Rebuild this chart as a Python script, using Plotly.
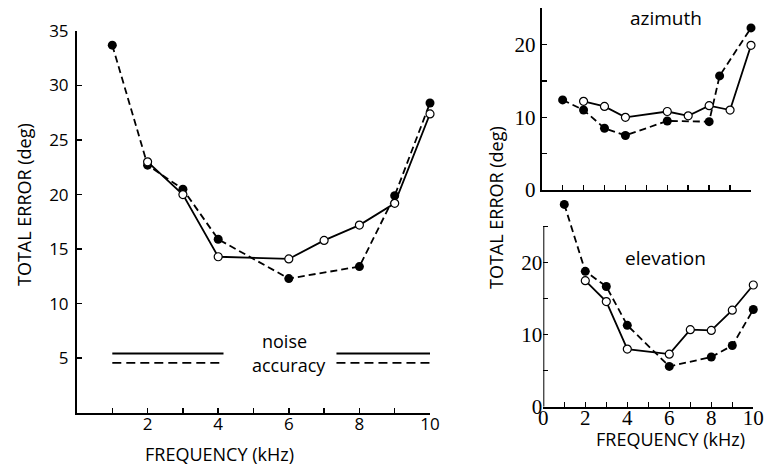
import plotly.graph_objects as go

W, H = 764, 467

# ---- Left panel (total error) ----
left_filled_x = [1, 2, 3, 4, 6, 8, 9, 10]
left_filled_y = [33.7, 22.7, 20.5, 15.9, 12.3, 13.4, 19.9, 28.4]
left_open_x = [2, 3, 4, 6, 7, 8, 9, 10]
left_open_y = [23.0, 20.0, 14.3, 14.1, 15.8, 17.2, 19.2, 27.4]
noise_x = [1, 4.15, None, 7.35, 10]
noise_solid_y = [5.43, 5.43, None, 5.43, 5.43]
noise_dash_y = [4.57, 4.57, None, 4.57, 4.57]

# ---- Top-right panel (azimuth) ----
az_filled_x = [1, 2, 3, 4, 6, 8, 8.5, 10]
az_filled_y = [12.4, 11.0, 8.5, 7.5, 9.5, 9.4, 15.7, 22.3]
az_open_x = [2, 3, 4, 6, 7, 8, 9, 10]
az_open_y = [12.2, 11.5, 10.0, 10.8, 10.2, 11.6, 11.0, 19.9]

# ---- Bottom-right panel (elevation) ----
el_filled_x = [1, 2, 3, 4, 6, 8, 9, 10]
el_filled_y = [28.1, 18.8, 16.7, 11.3, 5.6, 6.9, 8.5, 13.5]
el_open_x = [2, 3, 4, 6, 7, 8, 9, 10]
el_open_y = [17.5, 14.6, 8.0, 7.3, 10.7, 10.6, 13.4, 16.9]

left_yticks = [5, 10, 15, 20, 25, 30, 35]
left_xticks = list(range(1, 11))
left_xtext = ["" if v % 2 else str(v) for v in left_xticks]
right_yticks = [0, 5, 10, 15, 20, 25]
right_ytext = ["0", "", "10", "", "20", ""]
right_xticks = list(range(0, 11))
right_xtext = ["" if v % 2 else str(v) for v in right_xticks]

SANS = "Open Sans"
SERIF = "Liberation Serif"
DASH = "7px,4px"


def px(x):
    return x / W


def py(y):
    return 1 - y / H


fig = go.Figure()


def add_pair(fx, fy, ox, oy, xa, ya):
    fig.add_trace(go.Scatter(
        x=fx, y=fy, mode="lines+markers", xaxis=xa, yaxis=ya,
        line=dict(color="black", width=1.8, dash=DASH),
        marker=dict(color="black", size=9, symbol="circle"),
        cliponaxis=False, showlegend=False, hoverinfo="skip"))
    fig.add_trace(go.Scatter(
        x=ox, y=oy, mode="lines+markers", xaxis=xa, yaxis=ya,
        line=dict(color="black", width=1.8),
        marker=dict(color="white", size=8, symbol="circle",
                    line=dict(color="black", width=1.2)),
        cliponaxis=False, showlegend=False, hoverinfo="skip"))


add_pair(left_filled_x, left_filled_y, left_open_x, left_open_y, "x", "y")
fig.add_trace(go.Scatter(x=noise_x, y=noise_solid_y, mode="lines", xaxis="x", yaxis="y",
                         line=dict(color="black", width=1.8), showlegend=False,
                         hoverinfo="skip"))
fig.add_trace(go.Scatter(x=noise_x, y=noise_dash_y, mode="lines", xaxis="x", yaxis="y",
                         line=dict(color="black", width=1.8, dash="9px,5px"),
                         showlegend=False, hoverinfo="skip"))
add_pair(az_filled_x, az_filled_y, az_open_x, az_open_y, "x2", "y2")
add_pair(el_filled_x, el_filled_y, el_open_x, el_open_y, "x3", "y3")

common_axis = dict(showgrid=False, zeroline=False, linecolor="black", linewidth=2,
                   ticks="inside", tickcolor="black", tickwidth=1.5, ticklen=5,
                   fixedrange=True, automargin=False)

fig.update_layout(
    width=W, height=H, margin=dict(l=0, r=0, t=0, b=0, autoexpand=False),
    paper_bgcolor="white", plot_bgcolor="rgba(0,0,0,0)",
    xaxis=dict(common_axis, domain=[px(77), px(430)], range=[0, 10], anchor="y",
               showline=True, tickvals=left_xticks, ticktext=left_xtext,
               tickfont=dict(family=SANS, size=17, color="black"), ticklabelstandoff=-5),
    yaxis=dict(common_axis, domain=[py(412.7), py(31)], range=[0, 35], anchor="x",
               showline=True, tickvals=left_yticks,
               tickfont=dict(family=SANS, size=17, color="black"), ticklabelstandoff=3),
    xaxis2=dict(common_axis, domain=[px(541.7), px(751)], range=[0, 10], anchor="y2",
                showline=True, tickvals=list(range(1, 11)), showticklabels=False),
    yaxis2=dict(common_axis, domain=[py(190), py(8.3)], range=[0, 25], anchor="x2",
                showline=True, tickvals=right_yticks, ticktext=right_ytext,
                tickfont=dict(family=SERIF, size=21, color="black"), ticklabelstandoff=0),
    xaxis3=dict(common_axis, domain=[px(543.3), px(753.3)], range=[0, 10], anchor="y3",
                showline=True, tickvals=right_xticks, ticktext=right_xtext,
                tickfont=dict(family=SERIF, size=21, color="black"), ticklabelstandoff=-9),
    yaxis3=dict(common_axis, domain=[py(406.7), py(406.7 - 29.5 * 7.2)], range=[0, 29.5],
                anchor="x3", showline=False, tickvals=right_yticks, ticktext=right_ytext,
                tickfont=dict(family=SERIF, size=21, color="black"), ticklabelstandoff=0),
)

# y axis line for the elevation panel (axis spans 0..25 only)
fig.add_shape(type="line", xref="x3", yref="y3", x0=0, x1=0, y0=0, y1=25,
              line=dict(color="black", width=2))

title_font = dict(family=SANS, size=18, color="black")
C = dict(showarrow=False, xanchor="center", yanchor="middle")
fig.add_annotation(text="TOTAL ERROR (deg)", xref="paper", yref="paper",
                   x=px(24), y=py(205), textangle=-90, font=title_font, **C)
fig.add_annotation(text="FREQUENCY (kHz)", xref="paper", yref="paper",
                   x=px(219), y=py(454), font=title_font, **C)
fig.add_annotation(text="TOTAL ERROR (deg)", xref="paper", yref="paper",
                   x=px(496), y=py(208), textangle=-90, font=title_font, **C)
fig.add_annotation(text="FREQUENCY (kHz)", xref="paper", yref="paper",
                   x=px(670), y=py(439), font=title_font, **C)

fig.add_annotation(text="noise", xref="x", yref="y", x=5.87, y=6.6, font=title_font, **C)
fig.add_annotation(text="accuracy", xref="x", yref="y", x=6.0, y=4.4, font=title_font, **C)
fig.add_annotation(text="azimuth", xref="x2", yref="y2", x=5.93, y=23.6,
                   font=dict(family=SANS, size=19, color="black"), **C)
fig.add_annotation(text="elevation", xref="x3", yref="y3", x=5.82, y=20.6,
                   font=dict(family=SANS, size=19, color="black"), **C)

fig.write_html(
    "out.html",
    config={"displayModeBar": False, "staticPlot": True},
    post_script="document.body.style.margin='0';document.body.style.overflow='hidden';",
)
